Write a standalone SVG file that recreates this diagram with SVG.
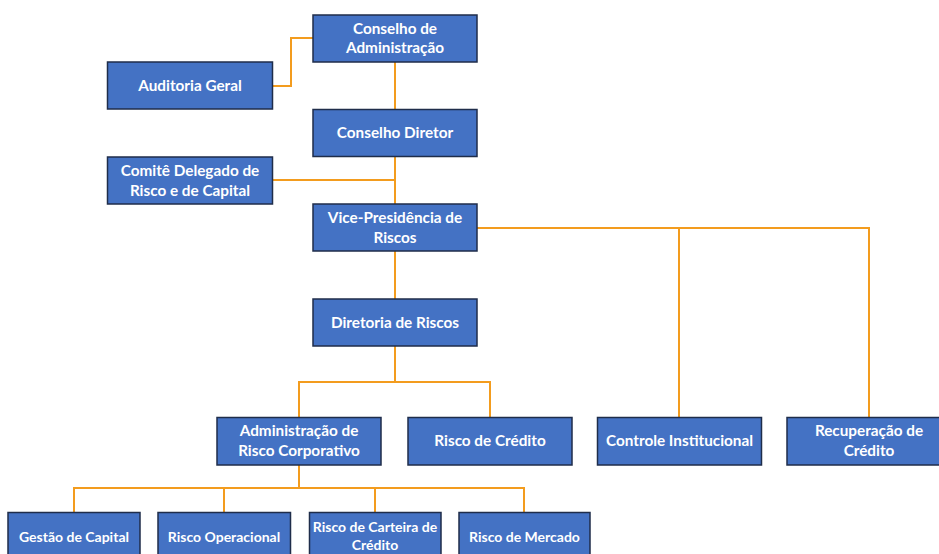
<svg xmlns="http://www.w3.org/2000/svg" width="939" height="554" viewBox="0 0 939 554">
  <style>
    .box { fill: #4472C4; stroke: #1F2D4A; stroke-width: 1.5; }
    .lbl { fill: #FFFFFF; font-family: Lato, "Liberation Sans", sans-serif; font-weight: 700; font-size: 15.3px; text-anchor: middle; }
    .sm { font-size: 14px; }
    .wire { fill: none; stroke: #F39C1E; stroke-width: 2; }
  </style>
  <rect width="939" height="554" fill="#FFFFFF"/>

  <!-- reporting lines -->
  <g id="connectors" class="wire">
    <path d="M272,86 H291 V38 H313"/>
    <path d="M395,62 V109"/>
    <path d="M395,157 V204"/>
    <path d="M272,180 H395"/>
    <path d="M395,251 V299"/>
    <path d="M395,346 V382"/>
    <path d="M299,417 V382 H490 V417"/>
    <path d="M477,228 H869 V417"/>
    <path d="M679,228 V417"/>
    <path d="M299,465 V488"/>
    <path d="M74,512 V488 H524 V512"/>
    <path d="M224,488 V512"/>
    <path d="M375,488 V512"/>
  </g>

  <g id="conselho-administracao">
    <rect class="box" x="313" y="15" width="164" height="47"/>
    <text class="lbl" x="395" y="33.5">Conselho de</text>
    <text class="lbl" x="395" y="53">Administração</text>
  </g>
  <g id="auditoria-geral">
    <rect class="box" x="107.5" y="62" width="165" height="47"/>
    <text class="lbl" x="190" y="91">Auditoria Geral</text>
  </g>
  <g id="conselho-diretor">
    <rect class="box" x="313" y="109.5" width="164" height="47"/>
    <text class="lbl" x="395" y="138">Conselho Diretor</text>
  </g>
  <g id="comite-delegado">
    <rect class="box" x="107.5" y="157" width="165" height="47"/>
    <text class="lbl" x="190" y="175.5">Comitê Delegado de</text>
    <text class="lbl" x="190" y="196">Risco e de Capital</text>
  </g>
  <g id="vice-presidencia">
    <rect class="box" x="313" y="204" width="164" height="47"/>
    <text class="lbl" x="395" y="222.5">Vice-Presidência de</text>
    <text class="lbl" x="395" y="242.5">Riscos</text>
  </g>
  <g id="diretoria-riscos">
    <rect class="box" x="313" y="299" width="164" height="47"/>
    <text class="lbl" x="395" y="328">Diretoria de Riscos</text>
  </g>
  <g id="administracao-risco">
    <rect class="box" x="217" y="417.5" width="164" height="47.5"/>
    <text class="lbl" x="299" y="436">Administração de</text>
    <text class="lbl" x="299" y="456">Risco Corporativo</text>
  </g>
  <g id="risco-credito">
    <rect class="box" x="408" y="417.5" width="164" height="47.5"/>
    <text class="lbl" x="490" y="446">Risco de Crédito</text>
  </g>
  <g id="controle-institucional">
    <rect class="box" x="597.5" y="417.5" width="164" height="47.5"/>
    <text class="lbl" x="679.5" y="446">Controle Institucional</text>
  </g>
  <g id="recuperacao-credito">
    <rect class="box" x="787" y="417.5" width="164" height="47.5"/>
    <text class="lbl" x="869" y="436">Recuperação de</text>
    <text class="lbl" x="869" y="456">Crédito</text>
  </g>
  <g id="gestao-capital">
    <rect class="box" x="8" y="512.5" width="132" height="50"/>
    <text class="lbl sm" x="74" y="541.5">Gestão de Capital</text>
  </g>
  <g id="risco-operacional">
    <rect class="box" x="158" y="512.5" width="132.5" height="50"/>
    <text class="lbl sm" x="224" y="541.5">Risco Operacional</text>
  </g>
  <g id="risco-carteira">
    <rect class="box" x="309.5" y="512.5" width="131.5" height="50"/>
    <text class="lbl sm" x="375" y="532">Risco de Carteira de</text>
    <text class="lbl sm" x="375" y="550">Crédito</text>
  </g>
  <g id="risco-mercado">
    <rect class="box" x="459" y="512.5" width="131" height="50"/>
    <text class="lbl sm" x="524.5" y="541.5">Risco de Mercado</text>
  </g>
</svg>
